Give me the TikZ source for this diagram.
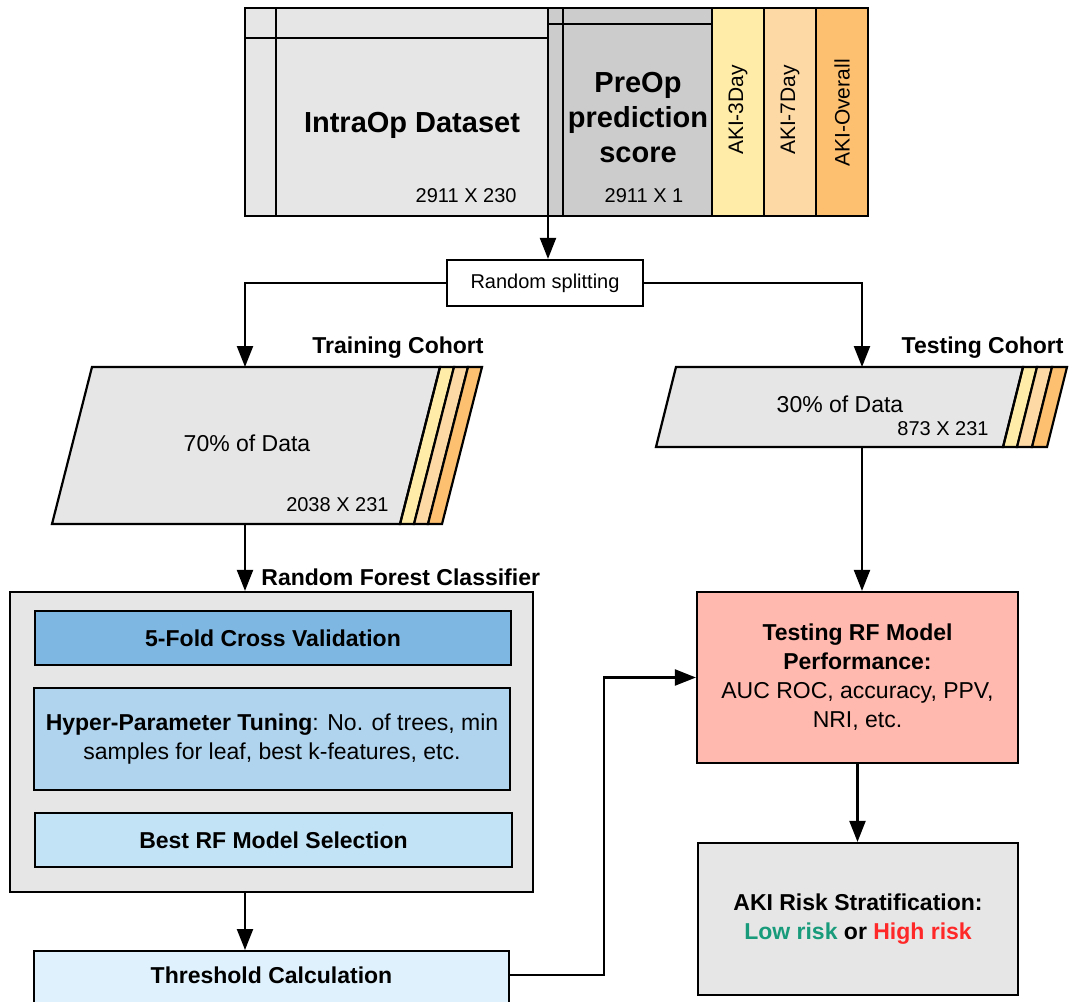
\documentclass[tikz,border=0pt]{standalone}
\usepackage{fontspec}
\setmainfont{Liberation Sans}
\usepackage{xcolor}
\usepackage{tikz}
\usetikzlibrary{calc}
\usetikzlibrary{arrows.meta}
\definecolor{aki-gray1}{RGB}{230, 230, 230}
\definecolor{aki-gray2}{RGB}{204, 204, 204}
\definecolor{aki-day3}{RGB}{255, 236, 168}
\definecolor{aki-day7}{RGB}{253, 217, 166}
\definecolor{aki-all}{RGB}{253, 192, 112}
\definecolor{aki-blue1}{RGB}{126, 183, 226}
\definecolor{aki-blue2}{RGB}{176, 212, 238}
\definecolor{aki-blue3}{RGB}{194, 227, 245}
\definecolor{aki-blue4}{RGB}{222, 241, 252}
\definecolor{aki-rose}{RGB}{255, 185, 174}
\definecolor{aki-green}{RGB}{24, 155, 122}
\definecolor{aki-red}{RGB}{255, 40, 40}

\begin{document}
\begin{tikzpicture}[x=1pt, y=-1pt, line width=2.2pt,
    box/.style={draw, rectangle, inner sep=0pt, align=center},
    arr/.style={-{Triangle[length=21pt, width=16pt]}},
    big/.style={font=\fontsize{29}{35}\selectfont\bfseries, align=center},
    txt/.style={font=\fontsize{23}{29}\selectfont, align=center},
    sml/.style={font=\fontsize{20}{24}\selectfont}]
  \useasboundingbox (0, 0) rectangle (1072, 1002);

  % dataset table
  \fill[aki-gray1] (245, 8) rectangle (548, 216);
  \fill[aki-gray2] (548, 8) rectangle (712, 216);
  \fill[aki-day3] (712, 8) rectangle (764, 216);
  \fill[aki-day7] (764, 8) rectangle (816, 216);
  \fill[aki-all] (816, 8) rectangle (868, 216);
  \draw (245, 8) rectangle (868, 216);
  \foreach \x in {276, 548, 563, 712, 764, 816}
    \draw (\x, 8) -- (\x, 216);
  \draw (245, 38) -- (548, 38);
  \draw (548, 24) -- (712, 24);
  \coordinate (dsout) at (548, 216);

  \node[big] (intraop) at (412, 125) {IntraOp Dataset};
  \node[sml, anchor=east] (intradim) at (521, 196) {2911 X 230};
  \node[big] (preop) at (638, 118) {PreOp\\prediction\\score};
  \node[sml] (preopdim) at (644, 196) {2911 X 1};
  \node[sml, font=\fontsize{21}{24}\selectfont, rotate=90] (aki3) at (738, 110) {AKI-3Day};
  \node[sml, font=\fontsize{21}{24}\selectfont, rotate=90] (aki7) at (790, 110) {AKI-7Day};
  \node[sml, font=\fontsize{21}{24}\selectfont, rotate=90] (akiall) at (842, 113) {AKI-Overall};

  \node[box, sml, minimum width=196, minimum height=46] (split) at (545, 283) {Random splitting};
  \draw[arr] (dsout) -- (dsout |- split.north);

  % training cohort
  \coordinate (traintop) at (245, 367);
  \coordinate (trainbot) at (245, 524);
  \fill[aki-gray1] (92, 367) -- (440, 367) -- (400, 524) -- (52, 524) -- cycle;
  \draw[fill=aki-day3] (440, 367) -- (454, 367) -- (414, 524) -- (400, 524) -- cycle;
  \draw[fill=aki-day7] (454, 367) -- (468, 367) -- (428, 524) -- (414, 524) -- cycle;
  \draw[fill=aki-all] (468, 367) -- (482, 367) -- (442, 524) -- (428, 524) -- cycle;
  \draw (92, 367) -- (440, 367) -- (400, 524) -- (52, 524) -- cycle;
  \node[txt] (train) at (247, 443) {70\% of Data};
  \node[sml, anchor=east] (traindim) at (393, 505) {2038 X 231};
  \node[txt, font=\fontsize{23}{29}\selectfont\bfseries, anchor=east] (trainlbl) at (488, 348) {Training Cohort};

  % testing cohort
  \coordinate (testtop) at (862, 367);
  \coordinate (testbot) at (862, 447);
  \fill[aki-gray1] (676, 367) -- (1023, 367) -- (1003, 447) -- (656, 447) -- cycle;
  \draw[fill=aki-day3] (1023, 367) -- (1037, 367) -- (1017, 447) -- (1003, 447) -- cycle;
  \draw[fill=aki-day7] (1037, 367) -- (1052, 367) -- (1032, 447) -- (1017, 447) -- cycle;
  \draw[fill=aki-all] (1052, 367) -- (1067, 367) -- (1047, 447) -- (1032, 447) -- cycle;
  \draw (676, 367) -- (1023, 367) -- (1003, 447) -- (656, 447) -- cycle;
  \node[txt] (test) at (840, 404) {30\% of Data};
  \node[sml, anchor=east] (testdim) at (993, 429) {873 X 231};
  \node[txt, font=\fontsize{23}{29}\selectfont\bfseries, anchor=east] (testlbl) at (1068, 348) {Testing Cohort};

  \draw[arr] (split.west) -| (traintop);
  \draw[arr] (split.east) -| (testtop);

  % random forest
  \node[box, fill=aki-gray1, minimum width=523, minimum height=300] (rf) at (271.5, 742) {};
  \node[txt, font=\fontsize{23}{29}\selectfont\bfseries, anchor=west] (rflbl) at (257, 577) {Random Forest Classifier};
  \node[box, txt, fill=aki-blue1, minimum width=476, minimum height=54] (cv) at (273, 638) {\bfseries 5-Fold Cross Validation};
  \node[box, txt, fill=aki-blue2, minimum width=476, minimum height=102] (hyper) at (272, 739)
    {\textbf{Hyper-Parameter Tuning}: No. of trees, min\\samples for leaf, best k-features, etc.};
  \node[box, txt, fill=aki-blue3, minimum width=477, minimum height=54] (best) at (273.5, 840) {\bfseries Best RF Model Selection};
  \draw[arr] (trainbot) -- (trainbot |- rf.north);

  \node[box, fill=aki-blue4, minimum width=475, minimum height=70, anchor=north] (thresh) at (271.5, 950) {};
  \node[txt, font=\fontsize{23}{29}\selectfont\bfseries] (threshtxt) at (271.5, 975) {Threshold Calculation};
  \draw[arr] (rf.south -| trainbot) -- (thresh.north -| trainbot);

  % testing
  \node[box, txt, fill=aki-rose, minimum width=321, minimum height=171] (perf) at (857.5, 677.5)
    {\textbf{Testing RF Model}\\\textbf{Performance:}\\AUC ROC, accuracy, PPV,\\NRI, etc.};
  \node[box, txt, fill=aki-gray1, minimum width=320, minimum height=152] (risk) at (858, 919)
    {\textbf{AKI Risk Stratification:}\\\textbf{\textcolor{aki-green}{Low risk} or \textcolor{aki-red}{High risk}}};
  \draw[arr] (testbot) -- (testbot |- perf.north);
  \draw[arr] (perf.south) -- (perf.south |- risk.north);

  \coordinate (bend) at (604, 975);
  \draw[arr] (thresh.east |- threshtxt) -- (bend) |- (perf.west);
\end{tikzpicture}
\end{document}
